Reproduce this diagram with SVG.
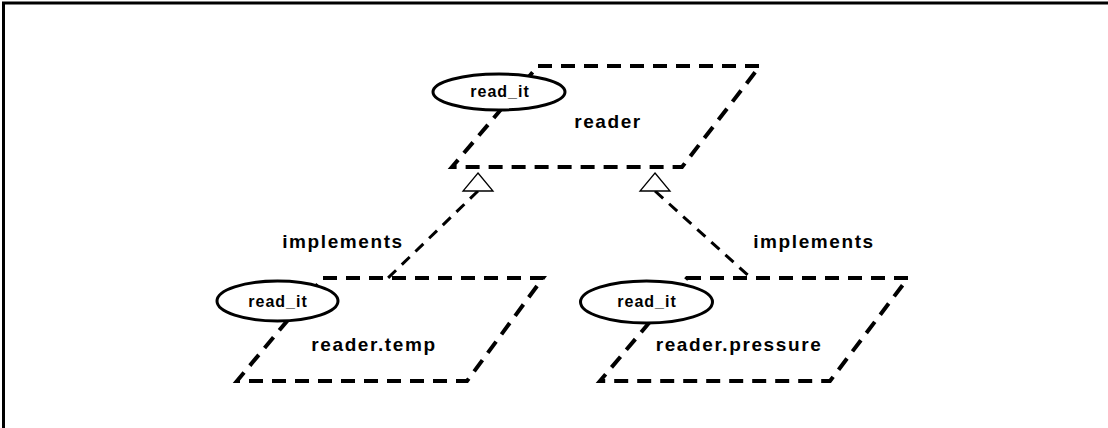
<svg xmlns="http://www.w3.org/2000/svg" width="1108" height="428" viewBox="0 0 1108 428">
<style>
.pg{fill:none;stroke:#000;stroke-width:4;stroke-dasharray:14 9;stroke-linejoin:miter}
.el{fill:#fff;stroke:#000;stroke-width:3}
.t{font-family:"Liberation Sans",Arial,sans-serif;font-weight:bold;fill:#000;text-anchor:middle}
.big{font-size:19px;letter-spacing:1.6px}
.sm{font-size:16px;letter-spacing:1px}
.cn{fill:none;stroke:#000;stroke-width:3;stroke-dasharray:11 8}
.tri{fill:#fff;stroke:#000;stroke-width:1.3}
</style>
<rect width="1108" height="428" fill="#fff"/>
<path d="M3.5 428 V3 H1108" fill="none" stroke="#000" stroke-width="3"/>
<g id="reader">
<path class="pg" d="M538 66 H760 L682 167 H452 Z"/>
<ellipse class="el" cx="499" cy="92" rx="66" ry="18"/>
<text class="t sm" x="500" y="97">read_it</text>
<text class="t big" x="608" y="128">reader</text>
</g>
<g id="reader_temp">
<path class="pg" d="M323 278 H543 L467 381 H237 Z"/>
<ellipse class="el" cx="277.5" cy="301" rx="60.5" ry="20"/>
<text class="t sm" x="278" y="307">read_it</text>
<text class="t big" x="374" y="351">reader.temp</text>
</g>
<g id="reader_pressure">
<path class="pg" d="M687 278 H908 L830 381 H600 Z"/>
<ellipse class="el" cx="646.5" cy="302" rx="66" ry="21"/>
<text class="t sm" x="647" y="307">read_it</text>
<text class="t big" x="739" y="351">reader.pressure</text>
</g>
<g id="connectors">
<path class="cn" d="M478 191 L388 278"/>
<polygon class="tri" points="478,173 493,191 463,191"/>
<text class="t big" x="343" y="248">implements</text>
<path class="cn" d="M655 191 L751 278"/>
<polygon class="tri" points="655,173 670,191 640,191"/>
<text class="t big" x="814" y="248">implements</text>
</g>
</svg>
